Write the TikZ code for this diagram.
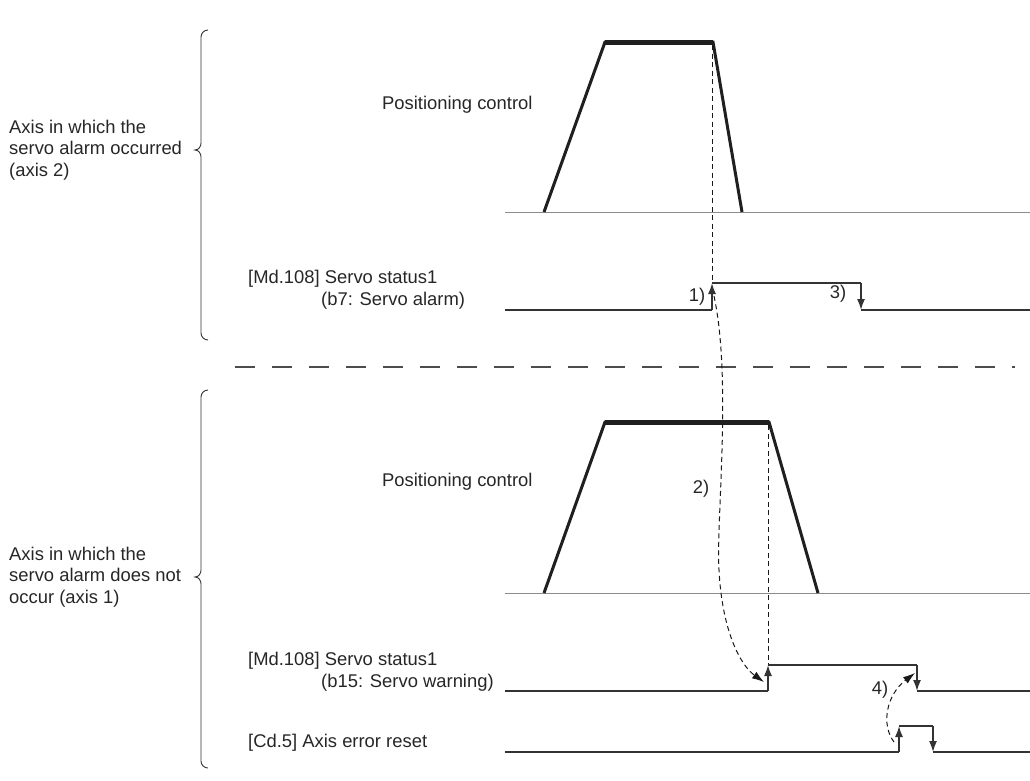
\documentclass[tikz,border=0pt]{standalone}
\usepackage{fontspec}
\setmainfont{Liberation Sans}
\usetikzlibrary{arrows.meta}
\tikzset{
  lbl/.style={font=\fontsize{18.4}{21.5}\selectfont, inner sep=0pt, align=left, text=black!85},
  sig/.style={line width=1.5pt, draw=black!80},
  baseln/.style={line width=1pt, draw=black!45},
  ramp/.style={line width=3pt, line join=miter, draw=black!88},
  flat/.style={line width=5pt, draw=black!88},
  guide/.style={line width=0.9pt, dash pattern=on 5pt off 3.5pt, draw=black!90},
  link/.style={line width=1pt, dash pattern=on 5pt off 3.5pt, draw=black!90, -{Latex[length=12pt,width=8pt]}},
  edgearrow/.style={sig, -{Latex[length=11pt,width=8pt]}},
  bracestyle/.style={line width=0.9pt, draw=black!80},
  sep/.style={line width=1.6pt, draw=black!70, dash pattern=on 20pt off 17pt}
}
\begin{document}
\begin{tikzpicture}[x=1pt,y=-1pt]
\useasboundingbox (0,0) rectangle (1030,780);

% ---------- braces ----------
\coordinate (B2top) at (208,30);
\coordinate (B2tip) at (195,150);
\coordinate (B2bot) at (208,340);
\draw[bracestyle] (B2top) to[out=180,in=90] (201,37) -- (201,143) to[out=-90,in=0] (B2tip) to[out=0,in=90] (201,157) -- (201,333) to[out=-90,in=180] (B2bot);
\coordinate (B1top) at (208,390);
\coordinate (B1tip) at (195,577);
\coordinate (B1bot) at (208,768);
\draw[bracestyle] (B1top) to[out=180,in=90] (201,397) -- (201,570) to[out=-90,in=0] (B1tip) to[out=0,in=90] (201,584) -- (201,761) to[out=-90,in=180] (B1bot);

\node[lbl, anchor=west] (ax2) at (9,150) {Axis in which the\\servo alarm occurred\\(axis 2)};
\node[lbl, anchor=west] (ax1) at (9,577) {Axis in which the\\servo alarm does not\\occur (axis 1)};

% ---------- separator ----------
\coordinate (S1) at (235,367);
\coordinate (S2) at (1015,367);
\draw[sep] (S1) -- (S2);

% ---------- axis 2 positioning ----------
\coordinate (bl2a) at (505,212);
\coordinate (bl2b) at (1030,212);
\draw[baseln] (bl2a) -- (bl2b);
\coordinate (t1) at (544,212);
\coordinate (t2) at (605,42);
\coordinate (t3) at (713,42);
\coordinate (t4) at (742,212);
\draw[ramp] (t1) -- (t2) -- (t3) -- (t4);
\draw[flat] (t2) -- (t3);
\node[lbl, anchor=west] (pc2) at (382,105) {Positioning control};

% ---------- axis 2 servo alarm ----------
\coordinate (a0) at (505,310);
\coordinate (a1) at (712,310);
\coordinate (a2) at (712,283);
\coordinate (a3) at (861,283);
\coordinate (a4) at (861,310);
\coordinate (a5) at (1030,310);
\coordinate (g2) at (712,45);
\draw[guide] (g2) -- (a2);
\draw[sig] (a0) -- (a1);
\draw[edgearrow] (a1) -- (a2);
\draw[sig] (a2) -- (a3);
\draw[edgearrow] (a3) -- (a4);
\draw[sig] (a4) -- (a5);
\node[lbl, anchor=west] (md2) at (248,279) {[Md.108] Servo status1};
\node[lbl, anchor=west] (b7) at (321,301) {(b7: Servo alarm)};
\node[lbl] (n1) at (697,297) {1)};
\node[lbl] (n3) at (838,294) {3)};

% ---------- axis 1 positioning ----------
\coordinate (bl1a) at (505,593);
\coordinate (bl1b) at (1030,593);
\draw[baseln] (bl1a) -- (bl1b);
\coordinate (u1) at (544,593);
\coordinate (u2) at (605,422);
\coordinate (u3) at (769,422);
\coordinate (u4) at (818,593);
\draw[ramp] (u1) -- (u2) -- (u3) -- (u4);
\draw[flat] (u2) -- (u3);
\node[lbl, anchor=west] (pc1) at (382,482) {Positioning control};

% ---------- axis 1 servo warning ----------
\coordinate (w0) at (505,691);
\coordinate (w1) at (768,691);
\coordinate (w2) at (768,665);
\coordinate (w3) at (917,665);
\coordinate (w4) at (917,691);
\coordinate (w5) at (1030,691);
\coordinate (g1) at (768,425);
\draw[guide] (g1) -- (w2);
\draw[sig] (w0) -- (w1);
\draw[edgearrow] (w1) -- (w2);
\draw[sig] (w2) -- (w3);
\draw[edgearrow] (w3) -- (w4);
\draw[sig] (w4) -- (w5);
\node[lbl, anchor=west] (md1) at (248,661) {[Md.108] Servo status1};
\node[lbl, anchor=west] (b15) at (321,683) {(b15: Servo warning)};

% ---------- axis error reset ----------
\coordinate (r0) at (505,752);
\coordinate (r1) at (899,752);
\coordinate (r2) at (899,726);
\coordinate (r3) at (933,726);
\coordinate (r4) at (933,752);
\coordinate (r5) at (1030,752);
\draw[sig] (r0) -- (r1);
\draw[edgearrow] (r1) -- (r2);
\draw[sig] (r2) -- (r3);
\draw[edgearrow] (r3) -- (r4);
\draw[sig] (r4) -- (r5);
\node[lbl, anchor=west] (cd5) at (248,743) {[Cd.5] Axis error reset};

% ---------- dashed links ----------
\coordinate (L2s) at (714,296);
\coordinate (L2e) at (764,682);
\draw[link] (L2s) .. controls (732,380) and (716,520) .. (719,570) .. controls (722,630) and (740,665) .. (L2e);
\node[lbl] (n2) at (701,489) {2)};
\coordinate (L4s) at (894,742);
\coordinate (L4e) at (915,673);
\draw[link] (L4s) .. controls (881,725) and (886,695) .. (L4e);
\node[lbl] (n4) at (880,690) {4)};
\end{tikzpicture}
\end{document}
